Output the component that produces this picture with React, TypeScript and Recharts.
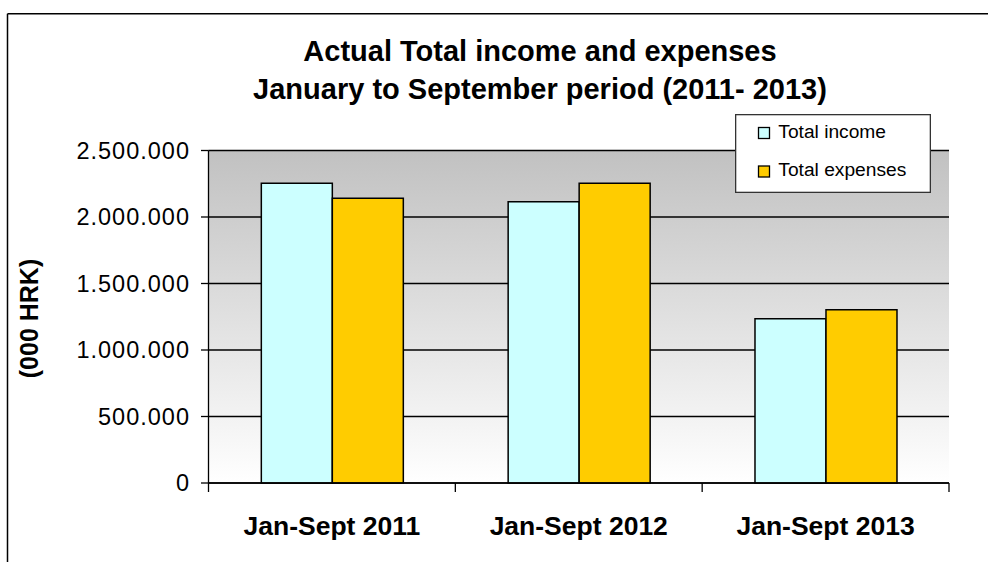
import React from 'react';
import { BarChart, Bar, XAxis, YAxis, CartesianGrid, Legend } from 'recharts';

const categories = ['Jan-Sept 2011', 'Jan-Sept 2012', 'Jan-Sept 2013'];
const totalIncome = [2253000, 2115000, 1235000];
const totalExpenses = [2141000, 2253000, 1303000];
const yTicks = [0, 500000, 1000000, 1500000, 2000000, 2500000];
const titleLines = ['Actual Total income and expenses', 'January to September period (2011- 2013)'];
const yLabel = '(000 HRK)';
const seriesNames = ['Total income', 'Total expenses'];
const seriesColors = ['#CCFFFF', '#FFCC00'];

const data = categories.map((c, i) => ({
  name: c,
  income: totalIncome[i],
  expenses: totalExpenses[i],
}));

const FONT = '"Liberation Sans", Arial, sans-serif';

const fmt = (v: number) => String(v).replace(/\B(?=(\d{3})+(?!\d))/g, '.');

const XTick = (props: any) => {
  const { x, y, payload, index, visibleTicksCount, width } = props;
  const count = visibleTicksCount || categories.length;
  const off = payload && payload.offset ? payload.offset : (width || 0) / count / 2;
  return (
    <g>
      <line x1={x - off} x2={x - off} y1={y} y2={y + 9} stroke="#000" strokeWidth={1.3} />
      {index === count - 1 && (
        <line x1={x + off} x2={x + off} y1={y} y2={y + 9} stroke="#000" strokeWidth={1.3} />
      )}
      <text
        x={x}
        y={y + 52.3}
        textAnchor="middle"
        fontFamily={FONT}
        fontWeight="bold"
        fontSize={26.5}
        fill="#000"
      >
        {payload.value}
      </text>
    </g>
  );
};

const LegendBox = () => (
  <svg width={196} height={79} style={{ display: 'block' }}>
    <rect x={0.65} y={0.65} width={194.7} height={77.7} fill="#fff" stroke="#333" strokeWidth={1.3} />
    {seriesNames.map((n, i) => (
      <g key={n}>
        <rect
          x={23.5}
          y={13.5 + i * 38.5}
          width={11}
          height={11}
          fill={seriesColors[i]}
          stroke="#000"
          strokeWidth={1.3}
        />
        <text x={43.3} y={23.8 + i * 38.5} fontFamily={FONT} fontSize={19.2} fill="#000">
          {n}
        </text>
      </g>
    ))}
  </svg>
);

export default function App() {
  return (
    <div
      style={{
        position: 'fixed',
        left: 0,
        top: 0,
        width: 988,
        height: 562,
        overflow: 'hidden',
        background: '#fff',
      }}
    >
      <div style={{ position: 'absolute', left: 0, top: 0 }}>
        <BarChart
          width={988}
          height={562}
          data={data}
          margin={{ top: 150.5, right: 39, bottom: 0, left: 8.5 }}
          barCategoryGap="21.4%"
          barGap={0}
        >
          <defs>
            <linearGradient id="plotBg" x1="0" y1="0" x2="0" y2="1">
              <stop offset="0%" stopColor="#c1c1c1" />
              <stop offset="100%" stopColor="#ffffff" />
            </linearGradient>
          </defs>
          <CartesianGrid
            vertical={false}
            stroke="#000"
            strokeWidth={1.3}
            fill="url(#plotBg)"
            fillOpacity={1}
          />
          <XAxis
            dataKey="name"
            height={79}
            interval={0}
            tickLine={false}
            tickSize={0}
            tickMargin={0}
            axisLine={{ stroke: '#000', strokeWidth: 1.3 }}
            tick={<XTick />}
          />
          <XAxis
            xAxisId="top"
            dataKey="name"
            orientation="top"
            height={0}
            tick={false}
            tickLine={false}
            axisLine={{ stroke: '#888', strokeWidth: 2 }}
          />
          <YAxis
            width={200}
            domain={[0, 2500000]}
            ticks={yTicks}
            interval={0}
            tickFormatter={fmt}
            tickSize={7.5}
            tickMargin={11}
            tickLine={{ stroke: '#000', strokeWidth: 1.3 }}
            axisLine={{ stroke: '#000', strokeWidth: 1.3 }}
            tick={{ fontFamily: FONT, fontSize: 23.5, fill: '#000', letterSpacing: 1 }}
          />
          <YAxis
            yAxisId="right"
            orientation="right"
            width={0}
            domain={[0, 2500000]}
            tick={false}
            tickLine={false}
            axisLine={{ stroke: '#888', strokeWidth: 2 }}
          />
          <Legend
            layout="vertical"
            align="center"
            verticalAlign="middle"
            content={<LegendBox />}
            wrapperStyle={{ position: 'absolute', left: 735, top: 114, width: 196, height: 79 }}
          />
          <Bar
            dataKey="income"
            name={seriesNames[0]}
            fill={seriesColors[0]}
            stroke="#000"
            strokeWidth={1.5}
            isAnimationActive={false}
          />
          <Bar
            dataKey="expenses"
            name={seriesNames[1]}
            fill={seriesColors[1]}
            stroke="#000"
            strokeWidth={1.5}
            isAnimationActive={false}
          />
        </BarChart>
      </div>
      <svg
        width={988}
        height={562}
        style={{ position: 'absolute', left: 0, top: 0, pointerEvents: 'none' }}
      >
        <line x1={7.5} y1={13.7} x2={988} y2={13.7} stroke="#000" strokeWidth={1.5} />
        <line x1={7.5} y1={13.7} x2={7.5} y2={562} stroke="#000" strokeWidth={1.5} />
        <text x={540} y={61} textAnchor="middle" fontFamily={FONT} fontWeight="bold" fontSize={29} fill="#000">
          {titleLines[0]}
        </text>
        <text x={540} y={99} textAnchor="middle" fontFamily={FONT} fontWeight="bold" fontSize={29} fill="#000">
          {titleLines[1]}
        </text>
        <text
          x={29}
          y={318.5}
          transform="rotate(-90 29 318.5)"
          textAnchor="middle"
          dominantBaseline="central"
          fontFamily={FONT}
          fontWeight="bold"
          fontSize={25}
          fill="#000"
        >
          {yLabel}
        </text>
      </svg>
    </div>
  );
}
